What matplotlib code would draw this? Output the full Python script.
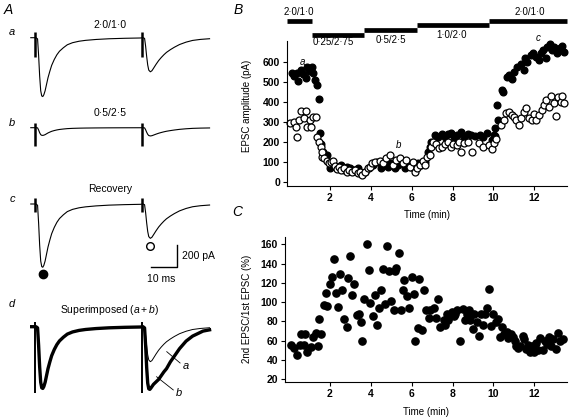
import numpy as np
import matplotlib
matplotlib.use("Agg")
import matplotlib.pyplot as plt

plt.rcParams['font.family'] = ['Liberation Sans', 'DejaVu Sans']
plt.rcParams['mathtext.fontset'] = 'custom'
plt.rcParams['mathtext.rm'] = 'Liberation Sans'
plt.rcParams['mathtext.it'] = 'Liberation Sans:italic'

# ---------------- data ----------------
# Panel A: EPSC shapes read off trace a (ms after stimulus, fraction of peak)
FAST_T = [0, 0.6, 1.0, 1.4, 1.8, 2.2, 2.6, 3.0, 3.5, 4.0, 4.6, 5.3, 6.0, 7.0,
          8.0, 9.0, 10.5, 12, 14, 16.5, 19, 23, 28, 34, 40]
FAST_V = [0, 0.02, 0.3, 0.65, 0.9, 0.99, 1.0, 0.97, 0.9, 0.8, 0.68, 0.57, 0.47,
          0.37, 0.29, 0.23, 0.17, 0.12, 0.085, 0.06, 0.045, 0.03, 0.018, 0.01, 0.005]
SECOND_T = [0, 0.6, 1.0, 1.4, 1.8, 2.2, 2.8, 3.4, 4, 5, 6, 7, 8, 9, 10.5, 12,
            14, 16.5, 19, 22, 25.5]
SECOND_V = [0, 0.02, 0.25, 0.55, 0.8, 0.95, 1.0, 0.97, 0.9, 0.78, 0.67, 0.58,
            0.5, 0.43, 0.35, 0.28, 0.2, 0.13, 0.08, 0.05, 0.03]
SLOW_T = [0, 0.6, 1.0, 1.4, 1.8, 2.2, 2.6, 3.0, 3.5, 4.0, 5, 6, 7, 8, 9, 10.5,
          12, 14, 16.5, 19, 23, 25.5]
SLOW_V = [0, 0.02, 0.3, 0.65, 0.9, 0.99, 1.0, 0.98, 0.95, 0.92, 0.88, 0.84,
          0.78, 0.72, 0.67, 0.56, 0.47, 0.35, 0.23, 0.15, 0.07, 0.05]
STIM2 = 41.0  # ms between the two stimuli

# peak amplitudes (pA): first, second
AMP_A = (535, 310)
AMP_B = (70, 75)
AMP_C = (575, 312)
AMP_DA = (561, 318)
AMP_DB = (561, 570)
# stimulus artefact extent (pA above, pA below baseline)
ART_A = (48, -180)
ART_B = (40, -165)
ART_C = (53, -70)
ART_D = (45, -605)

# Panel B: EPSC amplitude (pA) vs time (min)
FILLED_T = [0.13, 0.24, 0.37, 0.46, 0.57, 0.7, 0.81, 0.89, 1.0, 1.1, 1.19, 1.27,
            1.38, 1.45, 1.51, 1.55, 1.67, 1.84, 2.0, 2.11, 2.36, 2.52, 2.69, 2.85,
            3.0, 3.17, 3.37, 3.53, 3.74, 3.91, 4.13, 4.29, 4.51, 4.68, 4.84, 5.0,
            5.17, 5.33, 5.5, 5.66, 5.82, 5.99, 6.15, 6.31, 6.48, 6.64, 6.8, 6.89,
            6.97, 7.13, 7.29, 7.46, 7.62, 7.78, 7.91, 8.07, 8.24, 8.41, 8.57, 8.74,
            8.9, 9.1, 9.32, 9.51, 9.7, 9.92, 10.02, 10.08, 10.1, 10.19, 10.24,
            10.43, 10.46, 10.68, 10.76, 10.89, 11.0, 11.17, 11.33, 11.5, 11.54,
            11.66, 11.82, 11.94, 12.06, 12.23, 12.31, 12.42, 12.55, 12.64, 12.75,
            12.85, 12.97, 13.13, 13.24, 13.37, 13.46]
FILLED_V = [542, 528, 545, 503, 558, 538, 517, 575, 553, 575, 542, 508,
            483, 412, 242, 187, 150, 133, 67, 83, 75, 83, 58, 75,
            67, 58, 67, 42, 50, 67, 83, 100, 67, 83, 75, 92,
            67, 83, 100, 67, 92, 75, 67, 92, 83, 100, 150, 175,
            197, 233, 225, 237, 225, 237, 242, 225, 233, 247, 225, 237,
            233, 228, 233, 225, 242, 208, 233, 228, 267, 383, 308,
            458, 450, 522, 533, 512, 550, 572, 588, 558, 617,
            600, 633, 642, 625, 608, 642, 658, 617, 675, 688,
            658, 675, 642, 667, 678, 650]
OPEN_T = [0.07, 0.24, 0.32, 0.4, 0.48, 0.59, 0.73, 0.81, 0.89, 1.02, 1.08, 1.18,
          1.3, 1.38, 1.46, 1.54, 1.59, 1.62, 1.71, 1.84, 1.95, 2.03, 2.16, 2.23,
          2.33, 2.45, 2.56, 2.69, 2.82, 2.94, 3.1, 3.22, 3.35, 3.48, 3.59, 3.71,
          3.84, 3.96, 4.08, 4.19, 4.43, 4.6, 4.76, 4.93, 5.09, 5.25, 5.42, 5.58,
          5.74, 5.91, 6.07, 6.18, 6.28, 6.4, 6.56, 6.67, 6.77, 6.89, 6.97, 7.05,
          7.21, 7.33, 7.46, 7.62, 7.78, 7.91, 8.03, 8.2, 8.3, 8.41, 8.57, 8.74,
          8.95, 9.27, 9.5, 9.76, 9.92, 10.03, 10.13, 10.35, 10.51, 10.6, 10.76,
          10.89, 11.0, 11.12, 11.25, 11.33, 11.5, 11.61, 11.75, 11.87, 11.98,
          12.1, 12.23, 12.39, 12.47, 12.59, 12.72, 12.83, 12.97, 13.08, 13.18,
          13.3, 13.37, 13.46]
OPEN_V = [292, 300, 275, 225, 308, 353, 317, 353, 275, 308, 275, 325,
          325, 225, 197, 175, 125, 150, 117, 103, 92, 100, 103, 80,
          63, 75, 58, 67, 50, 58, 47, 58, 42, 50, 33, 47,
          67, 75, 92, 100, 103, 92, 117, 133, 83, 108, 117, 92,
          108, 75, 100, 50, 67, 83, 103, 83, 125, 133, 175, 197,
          187, 167, 175, 187, 197, 175, 187, 183, 197, 147, 192, 197,
          147, 192, 175, 183, 162, 192, 212, 283, 308, 342, 350,
          333, 322, 308, 283, 317, 350, 367, 317, 308, 338,
          308, 333, 358, 383, 408, 375, 428, 392, 328, 425,
          400, 428, 392]

# Panel B: solution periods (start, end, label)
COND_START = [-0.1, 1.1, 3.68, 6.26, 9.79]
COND_END = [1.1, 3.68, 6.26, 9.79, 13.6]
COND_LABEL = ["2\u00b70/1\u00b70", "0\u00b725/2\u00b775", "0\u00b75/2\u00b75",
              "1\u00b70/2\u00b70", "2\u00b70/1\u00b70"]
COND_LEVEL = [805, 733, 758, 783, 805]

# Panel C: paired-pulse ratio (%) vs time (min)
PPR_T = [0.08, 0.24, 0.41, 0.54, 0.57, 0.76, 0.73, 0.89, 1.06, 1.15, 1.3, 1.41,
         1.48, 1.58, 1.71, 1.87, 1.79, 1.98, 2.08, 2.2, 2.28, 2.39, 2.49, 2.57,
         2.68, 2.81, 2.88, 2.96, 3.09, 3.2, 3.3, 3.43, 3.5, 3.58, 3.69, 3.82,
         3.9, 3.95, 4.11, 4.2, 4.28, 4.39, 4.5, 4.59, 4.67, 4.8, 4.91, 5.0,
         5.12, 5.17, 5.25, 5.4, 5.48, 5.56, 5.64, 5.77, 5.87, 6.0, 6.1, 6.18,
         6.3, 6.37, 6.5, 6.59, 6.7, 6.83, 6.91, 7.07, 7.2, 7.3, 7.4, 7.56,
         7.64, 7.72, 7.8, 7.89, 7.97, 8.05, 8.13, 8.24, 8.37, 8.49, 8.62, 8.7,
         8.78, 8.86, 8.98, 9.06, 9.19, 9.27, 9.38, 9.48, 9.59, 9.67, 9.76, 9.87,
         10.0, 10.11, 10.2, 10.33, 10.41, 10.52, 10.65, 10.73, 10.85, 10.94,
         11.06, 11.1, 11.22, 11.3, 11.43, 11.51, 11.59, 11.7, 11.79, 11.87,
         11.98, 12.08, 12.2, 12.28, 12.41, 12.52, 12.63, 12.73, 12.83, 12.93,
         13.06, 13.17, 13.28, 13.41]
PPR_V = [55, 52, 45, 55, 67, 67, 55, 48, 53, 64, 68, 54,
         82, 67, 97, 96, 109, 119, 126, 145, 109, 95, 129, 112,
         82, 74, 125, 148, 107, 119, 87, 88, 79, 60, 103, 160,
         133, 99, 85, 107, 76, 94, 112, 134, 98, 158, 132, 101,
         92, 132, 135, 151, 92, 113, 123, 106, 94, 126, 108, 59,
         73, 124, 71, 113, 92, 83, 92, 94, 83, 103, 74, 81,
         76, 88, 81, 86, 90, 85, 88, 92, 60, 93, 81, 88,
         92, 81, 72, 88, 79, 65, 88, 76, 88, 94, 114, 75,
         88, 79, 82, 64, 74, 67, 69, 63, 67, 64,
         60, 54, 52, 54, 65, 62, 51, 55, 48, 54,
         48, 57, 50, 63, 50, 60, 56, 64, 54, 62,
         51, 68, 59, 62]

# ---------------- layout helpers (pixel based) ----------------
W, H = 570, 420
PX_MS = 2.61   # pixels per ms in panel A
PX_PA = 0.11   # pixels per pA in panel A
STIM_X = 36.0  # pixel position of first stimulus

fig = plt.figure(figsize=(W / 100, H / 100), dpi=100)


def px_axes(left, top, right, bottom):
    return fig.add_axes([left / W, 1 - bottom / H, (right - left) / W, (bottom - top) / H])


def trace_axes(baseline):
    ax = px_axes(STIM_X - 2.2 * PX_MS, baseline - 120 * PX_PA,
                 STIM_X + 68 * PX_MS, baseline + 750 * PX_PA)
    ax.set_xlim(-2.2, 68)
    ax.set_ylim(-750, 120)
    ax.axis("off")
    return ax


def build(amps, t2=SECOND_T, v2=SECOND_V):
    t = np.concatenate([[-2.0], FAST_T, STIM2 + np.array(t2)])
    y = np.concatenate([[0.0], -amps[0] * np.array(FAST_V), -amps[1] * np.array(v2)])
    return t, y


def artefacts(ax, art, lw=1.8):
    for s in (0, STIM2):
        ax.plot([s - 0.3, s - 0.3], [art[0], art[1]], color="black", lw=lw,
                solid_capstyle="butt")


def text_px(x, y, s, **kw):
    fig.text(x / W, 1 - y / H, s, **kw)


# ---------------- Panel A ----------------
text_px(8, 10, "A", fontsize=10, style="italic", ha="center", va="center")

rows = [(37.7, "a", "2\u00b70/1\u00b70", 25), (127.7, "b", "0\u00b75/2\u00b75", 113),
        (204.0, "c", "Recovery", 189), (326.7, "d", "Superimposed ($a + b$)", 310)]
row_y = {"a": 32, "b": 123, "c": 199, "d": 304}
for base, key, title, ty in rows:
    text_px(12, row_y[key], key, fontsize=8, style="italic", ha="center", va="center")
    text_px(110, ty, title, fontsize=7.5, ha="center", va="center")

ax_a = trace_axes(37.7)
t, y = build(AMP_A)
ax_a.plot(t, y, color="black", lw=0.8)
artefacts(ax_a, ART_A)

ax_b = trace_axes(127.7)
t, y = build(AMP_B)
ax_b.plot(t, y, color="black", lw=0.8)
artefacts(ax_b, ART_B)

ax_c = trace_axes(204.0)
t, y = build(AMP_C)
ax_c.plot(t, y, color="black", lw=0.8)
artefacts(ax_c, ART_C)
ax_c.plot([2.7], [-636], "o", color="black", ms=6)
ax_c.plot([43.7], [-382], "o", mfc="white", mec="black", mew=1.0, ms=5.5)
# scale bar 200 pA / 10 ms
ax_c.plot([43.9, 53.9, 53.9], [-575, -575, -373], color="black", lw=1.0)
ax_c.text(55.9, -474, "200 pA", fontsize=7.5, ha="left", va="center")
ax_c.text(47.9, -680, "10 ms", fontsize=7.5, ha="center", va="center")

ax_d = trace_axes(326.7)
t, y = build(AMP_DB, SLOW_T, SLOW_V)
ax_d.plot(t, y, color="black", lw=2.4)
t, y = build(AMP_DA)
ax_d.plot(t, y, color="black", lw=0.7)
artefacts(ax_d, ART_D, lw=1.4)
ax_d.plot([50.1, 55.2], [-227, -330], color="black", lw=0.6)
ax_d.text(56.2, -357, "a", fontsize=8, style="italic", ha="left", va="center")
ax_d.plot([46.2, 52.6], [-455, -575], color="black", lw=0.6)
ax_d.text(53.4, -605, "b", fontsize=8, style="italic", ha="left", va="center")


# ---------------- Panel B & C styling ----------------
def style(ax):
    for s in ("top", "right"):
        ax.spines[s].set_visible(False)
    for s in ("left", "bottom"):
        ax.spines[s].set_linewidth(0.8)
    ax.tick_params(direction="out", length=3, width=0.8, labelsize=7.5, pad=2)
    ax.set_xticks([2, 4, 6, 8, 10, 12])
    for lab in ax.get_xticklabels() + ax.get_yticklabels():
        lab.set_fontweight("bold")
    ax.set_xlabel("Time (min)", fontsize=7)


# Panel B
text_px(238, 10, "B", fontsize=10, style="italic", ha="center", va="center")
axB = px_axes(287, 41, 567, 186)
axB.set_xlim(-0.1, 13.6)
axB.set_ylim(-21.5, 703)
axB.set_yticks([0, 100, 200, 300, 400, 500, 600])
style(axB)
axB.set_ylabel("EPSC amplitude (pA)", fontsize=7)
axB.yaxis.set_label_coords((252 - 287) / 280, 0.55)
axB.xaxis.set_label_coords(0.5, -0.166)
axB.plot(FILLED_T, FILLED_V, "o", color="black", ms=4.8, clip_on=False)
axB.plot(OPEN_T, OPEN_V, "o", mfc="white", mec="black", mew=0.9, ms=5.0, clip_on=False)
for x0, x1, lvl in zip(COND_START, COND_END, COND_LEVEL):
    axB.plot([x0, x1], [lvl, lvl], color="black", lw=3.4, solid_capstyle="butt",
             clip_on=False)
cond_text = [(0.5, 848), (2.15, 698), (4.98, 708), (7.96, 733), (11.8, 848)]
for (cx, cy), lab in zip(cond_text, COND_LABEL):
    axB.text(cx, cy, lab, fontsize=7, ha="center", va="center")
axB.text(0.66, 600, "a", fontsize=7, style="italic", ha="center", va="center")
axB.text(5.35, 183, "b", fontsize=7, style="italic", ha="center", va="center")
axB.text(12.21, 717, "c", fontsize=7, style="italic", ha="center", va="center")

# Panel C
text_px(237, 212, "C", fontsize=10, style="italic", ha="center", va="center")
axC = px_axes(285, 236.7, 567, 381.7)
axC.set_xlim(-0.2, 13.6)
axC.set_ylim(17.2, 167.9)
axC.set_yticks([20, 40, 60, 80, 100, 120, 140, 160])
style(axC)
axC.set_ylabel("2nd EPSC/1st EPSC (%)", fontsize=7)
axC.yaxis.set_label_coords((252 - 285) / 282, 0.5)
axC.xaxis.set_label_coords(0.5, -0.174)
axC.plot(PPR_T, PPR_V, "o", color="black", ms=5.2, clip_on=False)

fig.savefig("out.png", dpi=100)
